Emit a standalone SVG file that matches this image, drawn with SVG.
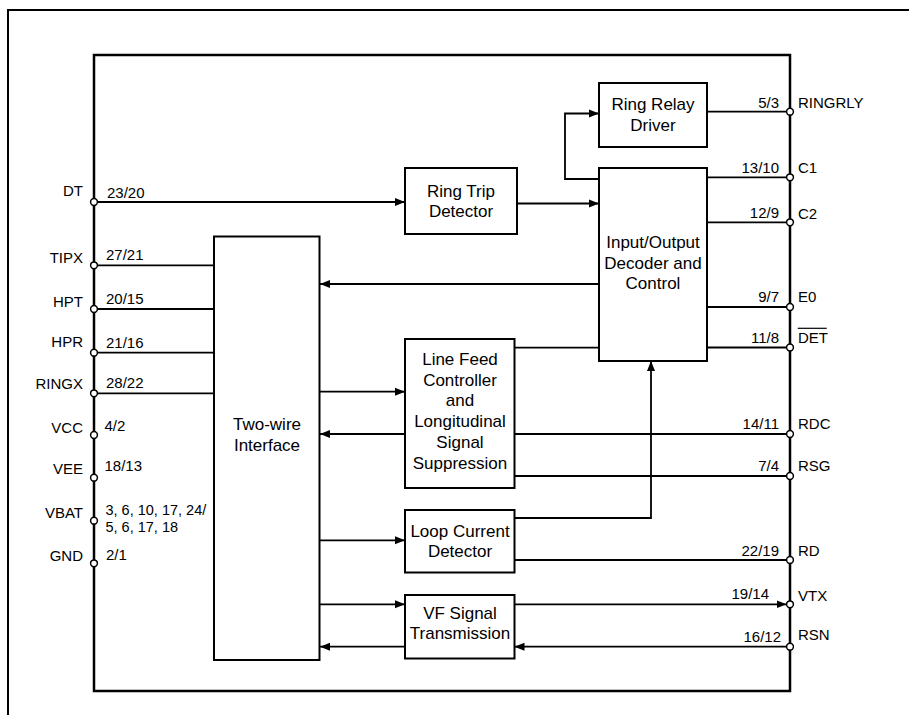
<svg xmlns="http://www.w3.org/2000/svg" width="909" height="715" viewBox="0 0 909 715">
<style>
.blk{fill:#fff;stroke:#000;stroke-width:2}
.bt{font-family:"Liberation Sans",Arial,sans-serif;font-size:17px;text-anchor:middle;fill:#000}
.pt{font-family:"Liberation Sans",Arial,sans-serif;font-size:15px;fill:#000}
.e{text-anchor:end}
.ln{fill:none;stroke:#000;stroke-width:1.8}
.pin{fill:#fff;stroke:#000;stroke-width:1.5}
</style>
<defs>
<marker id="ah" markerUnits="userSpaceOnUse" markerWidth="10" markerHeight="10" viewBox="0 0 10 10" refX="10" refY="5" orient="auto">
<path d="M0,1 L10,5 L0,9 Z" fill="#000"/>
</marker>
</defs>
<rect width="909" height="715" fill="#fff"/>
<path d="M8,715 V10 H909" fill="none" stroke="#000" stroke-width="2"/>
<rect x="94" y="55" width="696" height="636" fill="none" stroke="#000" stroke-width="2.5"/>

<g id="connectors">
<path class="ln" d="M94,202 H405" marker-end="url(#ah)"/>
<path class="ln" d="M517,203.5 H599" marker-end="url(#ah)"/>
<path class="ln" d="M599,179 H565 V113.5 H599" marker-end="url(#ah)"/>
<path class="ln" d="M707,111.7 H790"/>
<path class="ln" d="M707,177.3 H790"/>
<path class="ln" d="M707,222.3 H790"/>
<path class="ln" d="M707,307 H790"/>
<path class="ln" d="M707,347.5 H790"/>
<path class="ln" d="M599,284 H320" marker-end="url(#ah)"/>
<path class="ln" d="M514.5,347.7 H599"/>
<path class="ln" d="M94,265.3 H214"/>
<path class="ln" d="M94,309 H214"/>
<path class="ln" d="M94,352.7 H214"/>
<path class="ln" d="M94,393.3 H214"/>
<path class="ln" d="M319.5,391.7 H405" marker-end="url(#ah)"/>
<path class="ln" d="M405,434 H320" marker-end="url(#ah)"/>
<path class="ln" d="M514.5,434 H790"/>
<path class="ln" d="M514.5,476 H790"/>
<path class="ln" d="M514.5,518 H651 V361" marker-end="url(#ah)"/>
<path class="ln" d="M319.5,540.3 H405" marker-end="url(#ah)"/>
<path class="ln" d="M514.5,560 H790"/>
<path class="ln" d="M319.5,604.3 H405" marker-end="url(#ah)"/>
<path class="ln" d="M514.5,604.3 H786.5" marker-end="url(#ah)"/>
<path class="ln" d="M790,646.7 H514.5" marker-end="url(#ah)"/>
<path class="ln" d="M405,646.7 H320" marker-end="url(#ah)"/>
</g>

<g id="ringRelay">
<rect class="blk" x="599" y="83" width="108" height="64"/>
<text class="bt" x="653" y="110">Ring Relay</text>
<text class="bt" x="653" y="131">Driver</text>
</g>
<g id="ioControl">
<rect class="blk" x="599" y="168" width="108" height="193"/>
<text class="bt" x="653" y="248">Input/Output</text>
<text class="bt" x="653" y="268.5">Decoder and</text>
<text class="bt" x="653" y="289">Control</text>
</g>
<g id="ringTrip">
<rect class="blk" x="405" y="168" width="112" height="66"/>
<text class="bt" x="461" y="197">Ring Trip</text>
<text class="bt" x="461" y="217">Detector</text>
</g>
<g id="twoWire">
<rect class="blk" x="214" y="236.5" width="105.5" height="423.5"/>
<text class="bt" x="267" y="430">Two-wire</text>
<text class="bt" x="267" y="451">Interface</text>
</g>
<g id="lineFeed">
<rect class="blk" x="405" y="339" width="109.5" height="149"/>
<text class="bt" x="460" y="365">Line Feed</text>
<text class="bt" x="460" y="385.7">Controller</text>
<text class="bt" x="460" y="406">and</text>
<text class="bt" x="460" y="427">Longitudinal</text>
<text class="bt" x="460" y="448">Signal</text>
<text class="bt" x="460" y="468.5">Suppression</text>
</g>
<g id="loopCurrent">
<rect class="blk" x="405" y="510" width="109.5" height="62.5"/>
<text class="bt" x="460" y="537">Loop Current</text>
<text class="bt" x="460" y="556.5">Detector</text>
</g>
<g id="vfSignal">
<rect class="blk" x="405" y="595" width="109.5" height="63.5"/>
<text class="bt" x="460" y="618.5">VF Signal</text>
<text class="bt" x="460" y="639">Transmission</text>
</g>

<g id="leftPins">
<circle class="pin" cx="94" cy="202" r="3.4"/>
<circle class="pin" cx="94" cy="265.3" r="3.4"/>
<circle class="pin" cx="94" cy="309" r="3.4"/>
<circle class="pin" cx="94" cy="352.7" r="3.4"/>
<circle class="pin" cx="94" cy="393.3" r="3.4"/>
<circle class="pin" cx="94" cy="435" r="3.4"/>
<circle class="pin" cx="94" cy="477.7" r="3.4"/>
<circle class="pin" cx="94" cy="520.7" r="3.4"/>
<circle class="pin" cx="94" cy="563.3" r="3.4"/>
<text class="pt e" x="83" y="196">DT</text>
<text class="pt e" x="83" y="263.3">TIPX</text>
<text class="pt e" x="83" y="307.3">HPT</text>
<text class="pt e" x="83" y="346.7">HPR</text>
<text class="pt e" x="83" y="389">RINGX</text>
<text class="pt e" x="83" y="432.7">VCC</text>
<text class="pt e" x="83" y="474">VEE</text>
<text class="pt e" x="83" y="517.7">VBAT</text>
<text class="pt e" x="83" y="561">GND</text>
<text class="pt" x="107" y="197.7">23/20</text>
<text class="pt" x="106" y="260">27/21</text>
<text class="pt" x="106" y="304">20/15</text>
<text class="pt" x="106" y="347.7">21/16</text>
<text class="pt" x="106" y="388.3">28/22</text>
<text class="pt" x="104.5" y="431">4/2</text>
<text class="pt" x="104.5" y="471">18/13</text>
<text class="pt" x="105.5" y="515" style="font-size:14.5px">3, 6, 10, 17, 24/</text>
<text class="pt" x="105.5" y="531.5" style="font-size:14.5px">5, 6, 17, 18</text>
<text class="pt" x="106" y="560">2/1</text>
</g>

<g id="rightPins">
<circle class="pin" cx="790" cy="111.7" r="3.4"/>
<circle class="pin" cx="790" cy="177.3" r="3.4"/>
<circle class="pin" cx="790" cy="222.3" r="3.4"/>
<circle class="pin" cx="790" cy="307" r="3.4"/>
<circle class="pin" cx="790" cy="347.5" r="3.4"/>
<circle class="pin" cx="790" cy="434" r="3.4"/>
<circle class="pin" cx="790" cy="476" r="3.4"/>
<circle class="pin" cx="790" cy="560" r="3.4"/>
<circle class="pin" cx="790" cy="604.3" r="3.4"/>
<circle class="pin" cx="790" cy="646.7" r="3.4"/>
<text class="pt e" x="779" y="107.7">5/3</text>
<text class="pt e" x="779" y="172.7">13/10</text>
<text class="pt e" x="779" y="218.3">12/9</text>
<text class="pt e" x="779" y="302.3">9/7</text>
<text class="pt e" x="779" y="343.3">11/8</text>
<text class="pt e" x="779" y="429.3">14/11</text>
<text class="pt e" x="779" y="471">7/4</text>
<text class="pt e" x="779" y="555.7">22/19</text>
<text class="pt e" x="769" y="599.3">19/14</text>
<text class="pt e" x="781" y="641.7">16/12</text>
<text class="pt" x="798" y="108.3">RINGRLY</text>
<text class="pt" x="798" y="172.7">C1</text>
<text class="pt" x="798" y="219">C2</text>
<text class="pt" x="798" y="301.7">E0</text>
<text class="pt" x="798" y="342.7">DET</text>
<line x1="797.7" y1="328.3" x2="826.7" y2="328.3" stroke="#000" stroke-width="1.2"/>
<text class="pt" x="798" y="429.3">RDC</text>
<text class="pt" x="798" y="471">RSG</text>
<text class="pt" x="798" y="555.7">RD</text>
<text class="pt" x="798" y="600.7">VTX</text>
<text class="pt" x="798" y="640">RSN</text>
</g>
</svg>
